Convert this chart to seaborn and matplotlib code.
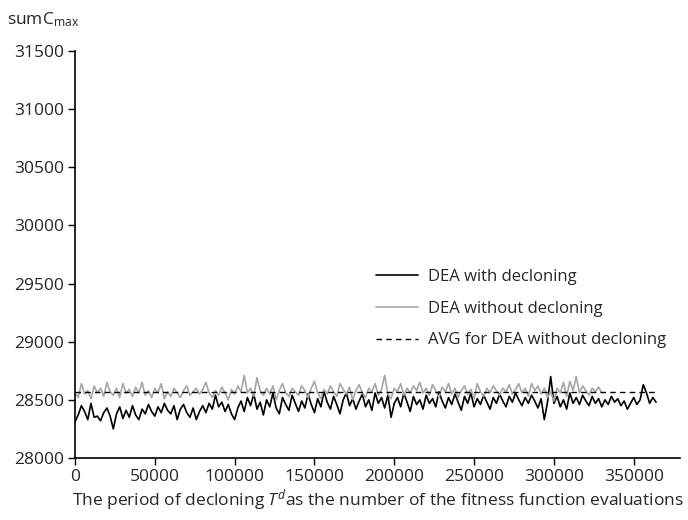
import numpy as np
import pandas as pd
import matplotlib
matplotlib.use("Agg")
import matplotlib.pyplot as plt
import seaborn as sns

# ---------------- data ----------------
step = 2000
black_vals = [
    28310, 28370, 28450, 28400, 28330, 28470, 28350, 28360, 28320, 28390,
    28430, 28360, 28250, 28380, 28440, 28340, 28410, 28350, 28450, 28370,
    28330, 28420, 28380, 28460, 28400, 28360, 28440, 28390, 28470, 28410,
    28380, 28450, 28330, 28420, 28460, 28390, 28350, 28430, 28330, 28400,
    28450, 28390, 28470, 28420, 28540, 28440, 28480, 28400, 28460, 28380,
    28330, 28430, 28490, 28400, 28520, 28450, 28550, 28420, 28480, 28370,
    28500, 28440, 28560, 28430, 28380, 28520, 28460, 28410, 28540, 28470,
    28400, 28490, 28430, 28550, 28460, 28390, 28510, 28440, 28570, 28480,
    28420, 28530, 28460, 28380, 28500, 28560, 28450, 28510, 28420, 28490,
    28550, 28440, 28500, 28410, 28560, 28470, 28520, 28430, 28540, 28350,
    28470, 28520, 28440, 28560, 28480, 28400, 28530, 28460, 28500, 28420,
    28540, 28470, 28510, 28440, 28570, 28490, 28430, 28520, 28460, 28550,
    28480, 28410, 28530, 28470, 28560, 28440, 28510, 28460, 28540, 28480,
    28420, 28520, 28470, 28550, 28490, 28440, 28530, 28480, 28560, 28500,
    28450, 28520, 28470, 28540, 28490, 28430, 28510, 28330, 28480, 28700,
    28470, 28530, 28440, 28500, 28420, 28560, 28470, 28520, 28460, 28540,
    28490, 28450, 28530, 28470, 28510, 28440, 28500, 28460, 28530, 28480,
    28510, 28450, 28490, 28420, 28470, 28520, 28460, 28500, 28630, 28560,
    28470, 28520, 28480,
]
grey_vals = [
    28560, 28520, 28640, 28550, 28580, 28510, 28620, 28560, 28600, 28530,
    28650, 28570, 28540, 28600, 28520, 28640, 28560, 28590, 28530, 28610,
    28560, 28650, 28540, 28580, 28520, 28600, 28560, 28640, 28510, 28570,
    28530, 28600, 28560, 28520, 28580, 28620, 28540, 28570, 28600, 28550,
    28590, 28650, 28560, 28520, 28580, 28540, 28610, 28560, 28500, 28590,
    28550, 28620, 28570, 28710, 28560, 28600, 28530, 28690, 28580, 28540,
    28600, 28550, 28620, 28500, 28580, 28640, 28560, 28530, 28600, 28570,
    28540, 28620, 28580, 28520, 28600, 28660, 28560, 28510, 28590, 28550,
    28620, 28570, 28530, 28640, 28590, 28550, 28610, 28500, 28580, 28630,
    28560, 28520, 28600, 28570, 28640, 28540, 28590, 28710, 28550, 28510,
    28600, 28570, 28640, 28540, 28600, 28560, 28620, 28580, 28650, 28560,
    28600, 28540, 28630, 28580, 28520, 28610, 28570, 28640, 28550, 28600,
    28520, 28580, 28620, 28550, 28590, 28510, 28640, 28570, 28530, 28600,
    28560, 28620, 28580, 28540, 28600, 28570, 28630, 28550, 28590, 28640,
    28560, 28600, 28530, 28640, 28580, 28620, 28550, 28600, 28520, 28570,
    28490, 28600, 28560, 28650, 28530, 28660, 28580, 28700, 28560, 28620,
    28580, 28540, 28600, 28570, 28610, 28560,
]
avg_value = 28570
avg_x = [0, 364000]

x_black = np.arange(len(black_vals)) * step
x_grey = np.arange(len(grey_vals)) * step

labels = ["DEA with decloning", "DEA without decloning", "AVG for DEA without decloning"]
x_ticks = [0, 50000, 100000, 150000, 200000, 250000, 300000, 350000]
y_ticks = [28000, 28500, 29000, 29500, 30000, 30500, 31000, 31500]

# ---------------- plot ----------------
sns.set_style("ticks")
plt.rcParams["font.family"] = ["Open Sans", "DejaVu Sans"]
plt.rcParams["mathtext.fontset"] = "custom"
plt.rcParams["mathtext.it"] = "Open Sans:italic"
plt.rcParams["mathtext.rm"] = "Open Sans"

fig = plt.figure(figsize=(6.88, 5.2), dpi=100)
ax = fig.add_axes([75 / 688, 1 - 458 / 520, 605 / 688, 407 / 520])

df_b = pd.DataFrame({"x": x_black, "y": black_vals})
df_g = pd.DataFrame({"x": x_grey, "y": grey_vals})
df_a = pd.DataFrame({"x": avg_x, "y": [avg_value] * len(avg_x)})

sns.lineplot(data=df_b, x="x", y="y", ax=ax, color="black", lw=1.2, label=labels[0])
sns.lineplot(data=df_g, x="x", y="y", ax=ax, color="#a6a6a6", lw=1.2, label=labels[1])
sns.lineplot(data=df_a, x="x", y="y", ax=ax, color="black", lw=1.0,
             linestyle=(0, (4, 3)), label=labels[2])

ax.set_xlim(0, 379000)
ax.set_ylim(28000, 31500)
ax.set_xticks(x_ticks)
ax.set_xticklabels([str(v) for v in x_ticks])
ax.set_yticks(y_ticks)
ax.set_yticklabels([str(v) for v in y_ticks])
ax.tick_params(axis="both", labelsize=12.5, length=5, width=1, color="black",
               direction="out", pad=3)
for s in ["top", "right"]:
    ax.spines[s].set_visible(False)
for s in ["left", "bottom"]:
    ax.spines[s].set_color("black")
    ax.spines[s].set_linewidth(1.2)

ax.set_xlabel("")
ax.set_ylabel("")
fig.text(7 / 688, 1 - 20 / 520, r"sumC$_{\mathrm{max}}$", fontsize=12.5,
         ha="left", va="center")
fig.text(378 / 688, 1 - 500 / 520,
         r"The period of decloning $T^{d}$as the number of the fitness function evaluations",
         fontsize=12.5, ha="center", va="center")

leg = ax.legend(loc="upper left", bbox_to_anchor=(0.473, 0.502), frameon=False,
                fontsize=12, handlelength=2.5, labelspacing=0.95, handletextpad=0.6)

fig.savefig("out.png", dpi=100)
